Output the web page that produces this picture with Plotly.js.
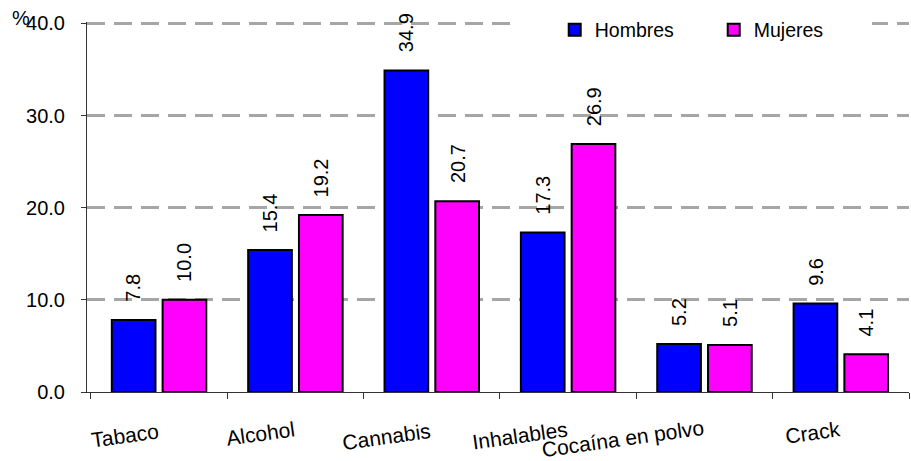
<!DOCTYPE html>
<html>
<head>
<meta charset="utf-8">
<script src="https://cdn.plot.ly/plotly-3.0.1.min.js"></script>
<style>html,body{margin:0;padding:0;background:#fff;}#chart{width:911px;height:461px;}</style>
</head>
<body>
<div id="chart"></div>
<script>
const categories = ["Tabaco", "Alcohol", "Cannabis", "Inhalables", "Cocaína en polvo", "Crack"];
const hombres = [7.8, 15.4, 34.9, 17.3, 5.2, 9.6];
const mujeres = [10.0, 19.2, 20.7, 26.9, 5.1, 4.1];
const seriesNames = ["Hombres", "Mujeres"];
const yTickVals = [0, 10, 20, 30, 40];
const yTickText = ["0.0", "10.0", "20.0", "30.0", "40.0"];

const FONT = "Liberation Sans, Arial, sans-serif";
const FS = 20;

const traces = [
  {type: "bar", name: seriesNames[0], x: categories, y: hombres,
   marker: {color: "#0000FF", line: {color: "#000", width: 2}}, hoverinfo: "none"},
  {type: "bar", name: seriesNames[1], x: categories, y: mujeres,
   marker: {color: "#FF00FF", line: {color: "#000", width: 2}}, hoverinfo: "none"}
];

const annotations = [];
// value labels
[hombres, mujeres].forEach((vals, si) => {
  vals.forEach((v, i) => {
    annotations.push({
      x: categories[i], y: v, xref: "x", yref: "y",
      text: v.toFixed(1), showarrow: false, textangle: -90,
      xanchor: "center", yanchor: "bottom",
      xshift: si === 0 ? -25.5 : 25.5, yshift: 16,
      font: {family: FONT, size: FS, color: "#000"}
    });
  });
});
// category labels
const labelShiftY = [0, 2, -1, 0, -3, 3];
categories.forEach((c, i) => {
  annotations.push({
    x: c, y: 0, xref: "x", yref: "paper",
    text: c, showarrow: false, textangle: -8,
    xanchor: "right", yanchor: "middle",
    xshift: 3, yshift: -43 + labelShiftY[i],
    font: {family: FONT, size: 21, color: "#000"}
  });
});
// percent sign
annotations.push({
  x: 0, y: 1, xref: "paper", yref: "paper", text: "%", showarrow: false,
  xanchor: "center", yanchor: "middle", xshift: -66, yshift: 4,
  font: {family: FONT, size: FS, color: "#000"}
});

const layout = {
  width: 911, height: 461,
  margin: {l: 87, r: 2, t: 21.5, b: 69},
  paper_bgcolor: "#fff", plot_bgcolor: "#fff",
  font: {family: FONT, size: FS, color: "#000"},
  barmode: "group", bargap: 0.255, bargroupgap: 0.14,
  showlegend: true,
  legend: {
    orientation: "h", x: 0.569, xanchor: "left", y: 0.978, yanchor: "middle",
    bgcolor: "rgba(0,0,0,0)", borderwidth: 0,
    entrywidth: 114, entrywidthmode: "pixels",
    font: {family: FONT, size: 19.5, color: "#000"}
  },
  xaxis: {
    type: "category", showticklabels: false,
    tickson: "boundaries", ticks: "outside", ticklen: 6, tickcolor: "#333", tickwidth: 1,
    showline: true, linecolor: "#333", linewidth: 1, showgrid: false, zeroline: false,
    fixedrange: true
  },
  yaxis: {
    range: [0, 40.15], tickmode: "array", tickvals: yTickVals, ticktext: yTickText,
    ticks: "outside", ticklen: 5, tickcolor: "#333", tickwidth: 1,
    ticklabelstandoff: 12,
    showline: true, linecolor: "#333", linewidth: 1,
    showgrid: true, gridcolor: "#a6a6a6", gridwidth: 3, griddash: "18px,9px",
    zeroline: false, tickfont: {family: FONT, size: FS, color: "#000"},
    fixedrange: true
  },
  shapes: [{
    type: "rect", xref: "paper", yref: "paper", layer: "above",
    x0: (514 - 87) / 822, x1: (872 - 87) / 822, y0: 0.94, y1: 1.03,
    fillcolor: "#fff", line: {width: 0}
  }],
  annotations: annotations
};

Plotly.newPlot("chart", traces, layout, {staticPlot: true, displayModeBar: false});
</script>
</body>
</html>
